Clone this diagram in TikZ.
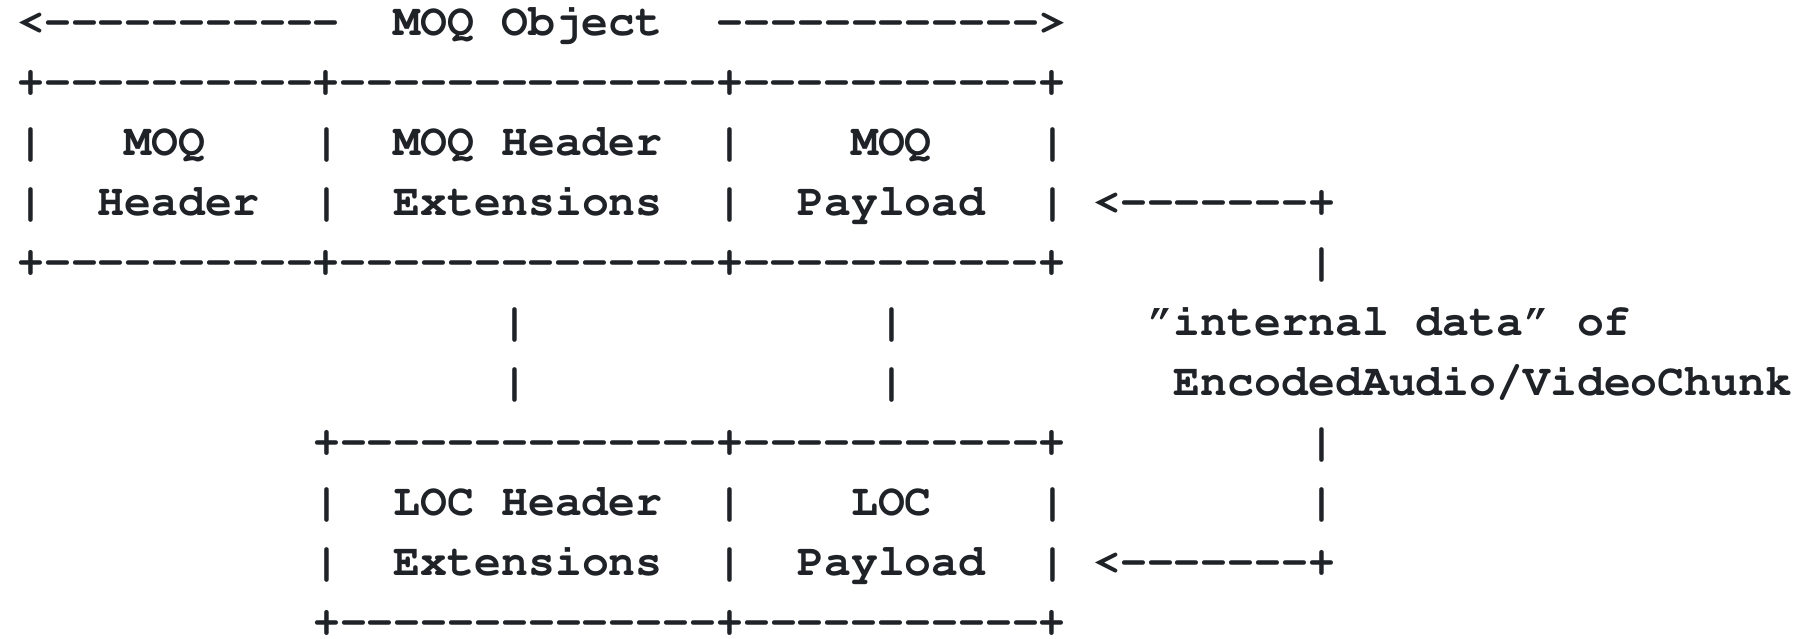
\documentclass[tikz,border=0pt]{standalone}
\usepackage[T1]{fontenc}
\usepackage{xcolor}
\definecolor{InkGray}{HTML}{1F2328}
\usepackage{tikz}
\usetikzlibrary{positioning}
\newcommand{\asciifont}{\fontencoding{T1}\fontfamily{pcr}\fontseries{b}\fontsize{22.4pt}{30pt}\selectfont}
% a run of single hyphens, kept apart so they form no ligature
\newcommand{\dashrun}[1]{\foreach \i in {1,...,#1}{-}}
\tikzset{
  ascii/.style={font=\asciifont, text=InkGray, inner sep=0pt, outer sep=0pt, anchor=base west},
  asciibar/.style={ascii}
}

\begin{document}
\begin{tikzpicture}[x=13.45pt, y=-30pt]
  \useasboundingbox (-8.625pt,17.5pt) rectangle (890.375pt,-301.5pt);

  % span of the MOQ object
  \node[ascii] (objleft) at (0,0) {<\dashrun{11}};
  \node[ascii] (objlabel) at (14,0) {MOQ Object};
  \node[ascii] (objright) at (26,0) {\dashrun{12}>};

  % MOQ object box
  \node[ascii] (moqtop) at (0,1) {+\dashrun{10}+\dashrun{14}+\dashrun{11}+};
  \foreach \r in {2,3}
    \foreach \c in {0,11,26,38}
      \node[asciibar] (bar\r-\c) at (\c,\r) {|};
  \node[ascii] (moqhdr1) at (4,2) {MOQ};
  \node[ascii] (moqhdr2) at (3,3) {Header};
  \node[ascii] (moqext1) at (14,2) {MOQ Header};
  \node[ascii] (moqext2) at (14,3) {Extensions};
  \node[ascii] (moqpay1) at (31,2) {MOQ};
  \node[ascii] (moqpay2) at (29,3) {Payload};
  \node[ascii] (moqptr) at (40,3) {<\dashrun{7}+};
  \node[ascii] (moqbot) at (0,4) {+\dashrun{10}+\dashrun{14}+\dashrun{11}+};

  % links down to the LOC box
  \foreach \r in {5,6}
    \foreach \c in {18,32}
      \node[asciibar] (link\r-\c) at (\c,\r) {|};
  \foreach \r in {4,7,8}
    \node[asciibar] (side\r) at (48,\r) {|};
  \node[ascii] (intdata1) at (42,5) {\textquotedblright internal data\textquotedblright{} of};
  \node[ascii] (intdata2) at (43,6) {EncodedAudio/VideoChunk};

  % LOC box
  \node[ascii] (loctop) at (11,7) {+\dashrun{14}+\dashrun{11}+};
  \foreach \r in {8,9}
    \foreach \c in {11,26,38}
      \node[asciibar] (lbar\r-\c) at (\c,\r) {|};
  \node[ascii] (locext1) at (14,8) {LOC Header};
  \node[ascii] (locext2) at (14,9) {Extensions};
  \node[ascii] (locpay1) at (31,8) {LOC};
  \node[ascii] (locpay2) at (29,9) {Payload};
  \node[ascii] (locptr) at (40,9) {<\dashrun{7}+};
  \node[ascii] (locbot) at (11,10) {+\dashrun{14}+\dashrun{11}+};
\end{tikzpicture}
\end{document}
